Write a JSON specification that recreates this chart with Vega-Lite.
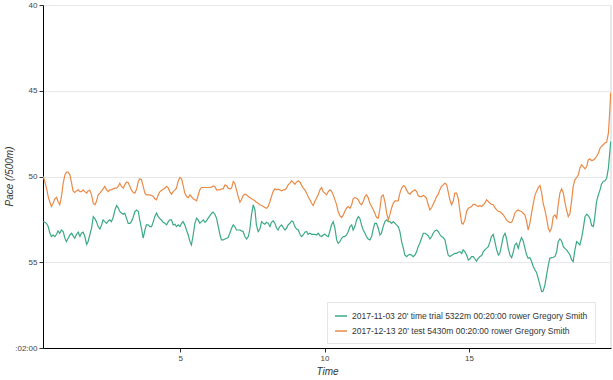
{
  "$schema": "https://vega.github.io/schema/vega-lite/v6.json",
  "width": 568,
  "height": 343,
  "autosize": {"type": "none"},
  "padding": {"left": 43, "top": 5, "right": 2, "bottom": 32},
  "config": {
    "font": "Liberation Sans",
    "view": {"stroke": null},
    "axis": {"gridColor": "#e8e8e8", "domainColor": "#000", "tickColor": "#333", "tickSize": 4, "labelFontSize": 8, "labelColor": "#444", "labelPadding": 2, "titleFontSize": 10, "titleFontWeight": "normal", "titleFontStyle": "italic", "titleColor": "#333"}
  },
  "data": {"values": [
    {"t":0.26,"g":52.63,"o":50.00},{"t":0.31,"g":52.67,"o":50.29},{"t":0.37,"g":52.73,"o":50.68},{"t":0.43,"g":52.92,"o":51.17},{"t":0.49,"g":53.31,"o":51.50},{"t":0.54,"g":53.50,"o":51.75},{"t":0.60,"g":53.41,"o":51.56},{"t":0.66,"g":53.50,"o":51.30},{"t":0.72,"g":53.37,"o":51.21},{"t":0.77,"g":53.17,"o":51.46},{"t":0.83,"g":53.31,"o":51.65},{"t":0.89,"g":53.12,"o":51.17},{"t":0.95,"g":53.21,"o":50.39},{"t":1.01,"g":53.60,"o":49.90},{"t":1.06,"g":53.80,"o":49.75},{"t":1.12,"g":53.60,"o":49.75},{"t":1.18,"g":53.41,"o":49.90},{"t":1.24,"g":53.31,"o":50.39},{"t":1.29,"g":53.45,"o":50.84},{"t":1.35,"g":53.60,"o":50.93},{"t":1.41,"g":53.37,"o":50.84},{"t":1.47,"g":53.25,"o":50.78},{"t":1.53,"g":53.50,"o":50.88},{"t":1.58,"g":53.31,"o":50.88},{"t":1.64,"g":53.25,"o":50.78},{"t":1.70,"g":53.50,"o":50.88},{"t":1.76,"g":53.95,"o":50.97},{"t":1.81,"g":53.80,"o":50.84},{"t":1.87,"g":53.41,"o":50.80},{"t":1.93,"g":53.02,"o":51.07},{"t":1.99,"g":52.34,"o":51.56},{"t":2.05,"g":52.47,"o":51.65},{"t":2.10,"g":52.63,"o":51.46},{"t":2.16,"g":52.92,"o":51.07},{"t":2.22,"g":53.06,"o":50.97},{"t":2.28,"g":52.82,"o":50.84},{"t":2.33,"g":52.53,"o":50.72},{"t":2.39,"g":52.63,"o":50.58},{"t":2.45,"g":52.73,"o":50.78},{"t":2.51,"g":52.59,"o":50.88},{"t":2.56,"g":52.53,"o":50.78},{"t":2.62,"g":52.63,"o":50.78},{"t":2.68,"g":52.39,"o":50.72},{"t":2.74,"g":51.95,"o":50.68},{"t":2.80,"g":51.69,"o":50.68},{"t":2.85,"g":51.81,"o":50.58},{"t":2.91,"g":52.04,"o":50.39},{"t":2.97,"g":52.14,"o":50.58},{"t":3.03,"g":52.20,"o":50.68},{"t":3.08,"g":52.14,"o":50.49},{"t":3.14,"g":52.43,"o":50.33},{"t":3.20,"g":52.73,"o":50.35},{"t":3.26,"g":52.73,"o":50.58},{"t":3.31,"g":52.63,"o":50.78},{"t":3.37,"g":52.39,"o":50.92},{"t":3.43,"g":52.04,"o":50.97},{"t":3.49,"g":51.95,"o":50.75},
    {"t":3.55,"g":52.04,"o":50.29},{"t":3.60,"g":52.53,"o":50.14},{"t":3.66,"g":53.02,"o":50.19},{"t":3.72,"g":53.60,"o":50.58},{"t":3.78,"g":53.12,"o":50.97},{"t":3.83,"g":52.82,"o":51.07},{"t":3.89,"g":52.82,"o":51.07},{"t":3.95,"g":52.92,"o":51.07},{"t":4.01,"g":52.92,"o":51.11},{"t":4.07,"g":52.63,"o":51.17},{"t":4.12,"g":52.34,"o":51.30},{"t":4.18,"g":52.14,"o":51.36},{"t":4.24,"g":52.34,"o":51.07},{"t":4.30,"g":52.47,"o":50.88},{"t":4.35,"g":52.53,"o":50.82},{"t":4.41,"g":52.67,"o":50.74},{"t":4.47,"g":52.73,"o":50.68},{"t":4.53,"g":52.82,"o":50.58},{"t":4.59,"g":52.63,"o":50.68},{"t":4.64,"g":52.53,"o":50.88},{"t":4.70,"g":52.53,"o":51.03},{"t":4.76,"g":52.82,"o":50.88},{"t":4.82,"g":52.78,"o":50.78},{"t":4.87,"g":52.92,"o":50.68},{"t":4.93,"g":52.82,"o":50.29},{"t":4.99,"g":52.92,"o":50.06},{"t":5.05,"g":52.73,"o":50.14},{"t":5.10,"g":52.63,"o":50.49},{"t":5.16,"g":52.82,"o":50.97},{"t":5.22,"g":53.12,"o":51.17},{"t":5.28,"g":53.41,"o":51.23},{"t":5.34,"g":53.80,"o":51.07},{"t":5.39,"g":53.99,"o":51.17},{"t":5.45,"g":53.41,"o":51.30},{"t":5.51,"g":52.73,"o":51.36},{"t":5.57,"g":52.43,"o":51.42},{"t":5.62,"g":52.53,"o":51.11},{"t":5.68,"g":52.73,"o":50.78},{"t":5.74,"g":52.63,"o":50.64},{"t":5.80,"g":52.53,"o":50.64},{"t":5.86,"g":52.67,"o":50.64},{"t":5.91,"g":52.59,"o":50.64},{"t":5.97,"g":52.43,"o":50.64},{"t":6.03,"g":52.28,"o":50.64},{"t":6.09,"g":52.14,"o":50.62},{"t":6.14,"g":52.08,"o":50.55},{"t":6.20,"g":52.20,"o":50.58},{"t":6.26,"g":52.43,"o":50.78},{"t":6.32,"g":52.92,"o":50.78},{"t":6.38,"g":53.41,"o":50.78},{"t":6.43,"g":53.70,"o":50.72},{"t":6.49,"g":53.70,"o":50.72},{"t":6.55,"g":53.64,"o":50.49},{"t":6.61,"g":53.60,"o":50.53},{"t":6.66,"g":53.56,"o":50.68},{"t":6.72,"g":53.31,"o":50.72},{"t":6.78,"g":53.02,"o":50.68},
    {"t":6.84,"g":52.82,"o":50.29},{"t":6.89,"g":52.92,"o":50.39},{"t":6.95,"g":53.12,"o":50.78},{"t":7.01,"g":53.12,"o":51.17},{"t":7.07,"g":53.12,"o":51.50},{"t":7.12,"g":53.17,"o":51.36},{"t":7.18,"g":53.21,"o":51.11},{"t":7.24,"g":53.50,"o":51.03},{"t":7.30,"g":53.64,"o":51.07},{"t":7.36,"g":53.50,"o":51.17},{"t":7.41,"g":53.12,"o":51.23},{"t":7.47,"g":52.24,"o":51.30},{"t":7.53,"g":51.65,"o":51.36},{"t":7.59,"g":51.95,"o":51.42},{"t":7.64,"g":52.82,"o":51.50},{"t":7.70,"g":53.21,"o":51.56},{"t":7.76,"g":53.06,"o":51.65},{"t":7.82,"g":52.63,"o":51.69},{"t":7.88,"g":52.73,"o":51.75},{"t":7.93,"g":52.78,"o":51.81},{"t":7.99,"g":52.67,"o":51.85},{"t":8.05,"g":52.73,"o":51.75},{"t":8.11,"g":52.92,"o":51.46},{"t":8.16,"g":52.67,"o":51.17},{"t":8.22,"g":52.59,"o":50.88},{"t":8.28,"g":52.73,"o":50.72},{"t":8.34,"g":53.02,"o":50.78},{"t":8.39,"g":53.12,"o":50.74},{"t":8.45,"g":52.92,"o":50.78},{"t":8.51,"g":52.82,"o":50.84},{"t":8.57,"g":52.98,"o":50.78},{"t":8.63,"g":53.12,"o":50.78},{"t":8.68,"g":53.02,"o":50.68},{"t":8.74,"g":52.82,"o":50.49},{"t":8.80,"g":52.73,"o":50.39},{"t":8.86,"g":52.59,"o":50.25},{"t":8.91,"g":52.63,"o":50.33},{"t":8.97,"g":52.92,"o":50.45},{"t":9.03,"g":53.06,"o":50.33},{"t":9.09,"g":53.12,"o":50.25},{"t":9.15,"g":53.37,"o":50.33},{"t":9.20,"g":53.50,"o":50.49},{"t":9.26,"g":53.41,"o":50.68},{"t":9.32,"g":53.25,"o":50.78},{"t":9.38,"g":53.21,"o":50.97},{"t":9.43,"g":53.37,"o":51.17},{"t":9.49,"g":53.31,"o":51.36},{"t":9.55,"g":53.37,"o":51.56},{"t":9.61,"g":53.37,"o":51.69},{"t":9.66,"g":53.37,"o":51.46},{"t":9.72,"g":53.41,"o":51.27},{"t":9.78,"g":53.31,"o":51.07},{"t":9.84,"g":53.45,"o":50.78},{"t":9.90,"g":53.50,"o":50.64},{"t":9.95,"g":53.41,"o":50.88},{"t":10.01,"g":53.37,"o":50.97},{"t":10.07,"g":53.45,"o":51.07},
    {"t":10.13,"g":53.50,"o":50.88},{"t":10.18,"g":53.21,"o":50.78},{"t":10.24,"g":52.82,"o":50.84},{"t":10.30,"g":52.63,"o":51.07},{"t":10.36,"g":53.02,"o":51.36},{"t":10.42,"g":53.70,"o":51.65},{"t":10.47,"g":53.89,"o":52.04},{"t":10.53,"g":53.80,"o":52.28},{"t":10.59,"g":53.60,"o":52.39},{"t":10.65,"g":53.50,"o":52.24},{"t":10.70,"g":53.50,"o":52.04},{"t":10.76,"g":53.41,"o":51.85},{"t":10.82,"g":53.21,"o":51.75},{"t":10.88,"g":52.92,"o":51.85},{"t":10.94,"g":52.82,"o":51.65},{"t":10.99,"g":53.12,"o":51.30},{"t":11.05,"g":52.92,"o":51.23},{"t":11.11,"g":52.53,"o":51.27},{"t":11.17,"g":52.34,"o":51.36},{"t":11.22,"g":52.43,"o":51.56},{"t":11.28,"g":52.82,"o":51.65},{"t":11.34,"g":53.12,"o":51.46},{"t":11.40,"g":53.31,"o":51.17},{"t":11.45,"g":53.50,"o":51.07},{"t":11.51,"g":53.64,"o":51.23},{"t":11.57,"g":53.70,"o":51.56},{"t":11.63,"g":53.50,"o":51.75},{"t":11.69,"g":53.02,"o":51.95},{"t":11.74,"g":52.73,"o":52.14},{"t":11.80,"g":52.73,"o":52.39},{"t":11.86,"g":53.02,"o":52.43},{"t":11.92,"g":53.41,"o":51.85},{"t":11.97,"g":53.31,"o":51.17},{"t":12.03,"g":52.92,"o":51.07},{"t":12.09,"g":52.63,"o":51.46},{"t":12.15,"g":52.53,"o":52.14},{"t":12.21,"g":52.63,"o":52.53},{"t":12.26,"g":52.63,"o":52.24},{"t":12.32,"g":52.73,"o":51.85},{"t":12.38,"g":52.63,"o":51.56},{"t":12.44,"g":52.73,"o":51.42},{"t":12.49,"g":52.82,"o":51.42},{"t":12.55,"g":52.92,"o":51.42},{"t":12.61,"g":53.21,"o":50.97},{"t":12.67,"g":53.80,"o":50.68},{"t":12.73,"g":54.19,"o":50.53},{"t":12.78,"g":54.58,"o":50.58},{"t":12.84,"g":54.67,"o":50.78},{"t":12.90,"g":54.58,"o":50.97},{"t":12.96,"g":54.54,"o":51.03},{"t":13.01,"g":54.58,"o":50.92},{"t":13.07,"g":54.67,"o":50.84},{"t":13.13,"g":54.58,"o":50.78},{"t":13.19,"g":54.38,"o":50.88},{"t":13.24,"g":54.09,"o":51.11},{"t":13.30,"g":53.89,"o":51.17},{"t":13.36,"g":53.60,"o":51.17},
    {"t":13.42,"g":53.31,"o":51.11},{"t":13.48,"g":53.31,"o":51.17},{"t":13.53,"g":53.37,"o":51.27},{"t":13.59,"g":53.45,"o":51.65},{"t":13.65,"g":53.64,"o":51.95},{"t":13.71,"g":53.50,"o":51.81},{"t":13.76,"g":53.31,"o":51.62},{"t":13.82,"g":53.17,"o":51.42},{"t":13.88,"g":53.12,"o":51.17},{"t":13.94,"g":53.21,"o":51.03},{"t":13.99,"g":53.37,"o":50.78},{"t":14.05,"g":53.50,"o":50.58},{"t":14.11,"g":53.56,"o":50.49},{"t":14.17,"g":53.70,"o":50.39},{"t":14.23,"g":54.19,"o":50.49},{"t":14.28,"g":54.58,"o":50.88},{"t":14.34,"g":54.67,"o":51.36},{"t":14.40,"g":54.61,"o":51.65},{"t":14.46,"g":54.54,"o":51.42},{"t":14.51,"g":54.48,"o":50.97},{"t":14.57,"g":54.48,"o":50.97},{"t":14.63,"g":54.42,"o":51.27},{"t":14.69,"g":54.38,"o":52.04},{"t":14.75,"g":54.48,"o":52.73},{"t":14.80,"g":54.28,"o":52.78},{"t":14.86,"g":54.38,"o":52.53},{"t":14.92,"g":54.58,"o":52.04},{"t":14.98,"g":54.87,"o":51.85},{"t":15.03,"g":54.81,"o":51.81},{"t":15.09,"g":54.67,"o":51.75},{"t":15.15,"g":54.67,"o":51.62},{"t":15.21,"g":54.81,"o":51.62},{"t":15.26,"g":54.93,"o":51.69},{"t":15.32,"g":54.77,"o":51.75},{"t":15.38,"g":54.67,"o":51.69},{"t":15.44,"g":54.61,"o":51.75},{"t":15.50,"g":54.38,"o":51.65},{"t":15.55,"g":54.28,"o":51.56},{"t":15.61,"g":54.19,"o":51.36},{"t":15.67,"g":54.09,"o":51.46},{"t":15.73,"g":53.80,"o":51.56},{"t":15.78,"g":53.50,"o":51.62},{"t":15.84,"g":53.37,"o":51.65},{"t":15.90,"g":53.80,"o":51.81},{"t":15.96,"g":54.28,"o":51.95},{"t":16.02,"g":54.58,"o":52.04},{"t":16.07,"g":54.48,"o":52.04},{"t":16.13,"g":54.00,"o":52.14},{"t":16.19,"g":53.50,"o":52.24},{"t":16.25,"g":53.31,"o":52.39},{"t":16.30,"g":53.60,"o":52.53},{"t":16.36,"g":54.19,"o":52.63},{"t":16.42,"g":54.58,"o":52.69},{"t":16.48,"g":54.73,"o":52.67},{"t":16.54,"g":54.38,"o":52.43},{"t":16.59,"g":53.99,"o":52.14},{"t":16.65,"g":53.89,"o":52.01},
    {"t":16.71,"g":54.19,"o":51.95},{"t":16.77,"g":53.80,"o":52.01},{"t":16.82,"g":53.56,"o":52.04},{"t":16.88,"g":53.76,"o":52.14},{"t":16.94,"g":54.19,"o":52.24},{"t":17.00,"g":54.58,"o":52.63},{"t":17.05,"g":54.77,"o":53.12},{"t":17.11,"g":54.73,"o":52.73},{"t":17.17,"g":54.96,"o":52.14},{"t":17.23,"g":55.26,"o":51.56},{"t":17.29,"g":55.45,"o":51.07},{"t":17.34,"g":55.59,"o":50.88},{"t":17.40,"g":55.94,"o":50.64},{"t":17.46,"g":56.33,"o":50.53},{"t":17.52,"g":56.72,"o":50.97},{"t":17.57,"g":56.68,"o":51.56},{"t":17.63,"g":56.33,"o":51.95},{"t":17.69,"g":55.74,"o":52.43},{"t":17.75,"g":55.16,"o":53.02},{"t":17.80,"g":54.77,"o":53.21},{"t":17.86,"g":54.73,"o":53.02},{"t":17.92,"g":54.71,"o":52.34},{"t":17.98,"g":54.67,"o":52.24},{"t":18.04,"g":54.38,"o":52.43},{"t":18.09,"g":53.80,"o":51.65},{"t":18.15,"g":53.64,"o":50.97},{"t":18.21,"g":53.76,"o":50.72},{"t":18.27,"g":54.09,"o":50.97},{"t":18.32,"g":54.19,"o":51.46},{"t":18.38,"g":54.28,"o":51.95},{"t":18.44,"g":54.42,"o":52.34},{"t":18.50,"g":54.58,"o":52.14},{"t":18.56,"g":54.87,"o":51.36},{"t":18.61,"g":54.96,"o":50.58},{"t":18.67,"g":54.28,"o":50.19},{"t":18.73,"g":53.80,"o":50.06},{"t":18.79,"g":53.89,"o":49.90},{"t":18.84,"g":53.99,"o":49.51},{"t":18.90,"g":53.60,"o":49.32},{"t":18.96,"g":53.02,"o":49.42},{"t":19.02,"g":52.34,"o":49.55},{"t":19.08,"g":52.20,"o":49.42},{"t":19.13,"g":52.28,"o":49.03},{"t":19.19,"g":52.43,"o":48.97},{"t":19.25,"g":52.86,"o":49.08},{"t":19.31,"g":52.92,"o":49.03},{"t":19.36,"g":52.34,"o":48.97},{"t":19.42,"g":51.46,"o":48.83},{"t":19.48,"g":51.07,"o":48.64},{"t":19.54,"g":50.78,"o":48.35},{"t":19.59,"g":50.45,"o":48.25},{"t":19.65,"g":50.29,"o":48.15},{"t":19.71,"g":50.25,"o":48.05},{"t":19.77,"g":50.10,"o":47.99},{"t":19.83,"g":49.51,"o":47.47},{"t":19.87,"g":48.73,"o":46.40},{"t":19.91,"g":47.96,"o":45.10}
  ]},
  "layer": [
    {
      "mark": {"type": "rule", "color": "#e8e8e8", "strokeWidth": 1},
      "encoding": {"x": {"datum": 19.92, "type": "quantitative"}}
    },
    {
      "transform": [{"fold": ["g", "o"], "as": ["series", "pace"]}],
      "mark": {"type": "line", "strokeWidth": 1.2, "clip": true},
      "encoding": {
        "x": {"field": "t", "type": "quantitative", "scale": {"domain": [0.25, 19.92], "nice": false, "zero": false},
          "axis": {"title": "Time", "values": [5, 10, 15], "titleY": 23, "titleBaseline": "middle"}},
        "y": {"field": "pace", "type": "quantitative", "scale": {"domain": [40, 60], "reverse": true, "nice": false, "zero": false},
          "axis": {"title": "Pace (/500m)", "values": [40, 45, 50, 55, 60], "labelExpr": "datum.value == 60 ? ':02:00' : datum.label", "titleX": -34, "titleY": 171, "titleAngle": 270, "titleAlign": "center", "titleBaseline": "middle"}},
        "color": {"field": "series", "type": "nominal",
          "scale": {"domain": ["g", "o"], "range": ["#3aaa85", "#ec8a47"]},
          "legend": {"title": null, "orient": "none", "legendX": 284, "legendY": 297, "padding": 7, "strokeColor": "#e5e5e5", "fillColor": "white",
            "symbolType": "stroke", "symbolSize": 144, "symbolStrokeWidth": 1.5, "labelFontSize": 8.5, "labelLimit": 0, "labelColor": "#333", "labelOffset": 4, "rowPadding": 3,
            "labelExpr": "datum.value == 'g' ? \"2017-11-03 20' time trial 5322m 00:20:00 rower Gregory Smith\" : \"2017-12-13 20' test 5430m 00:20:00 rower Gregory Smith\""}}
      }
    }
  ]
}
